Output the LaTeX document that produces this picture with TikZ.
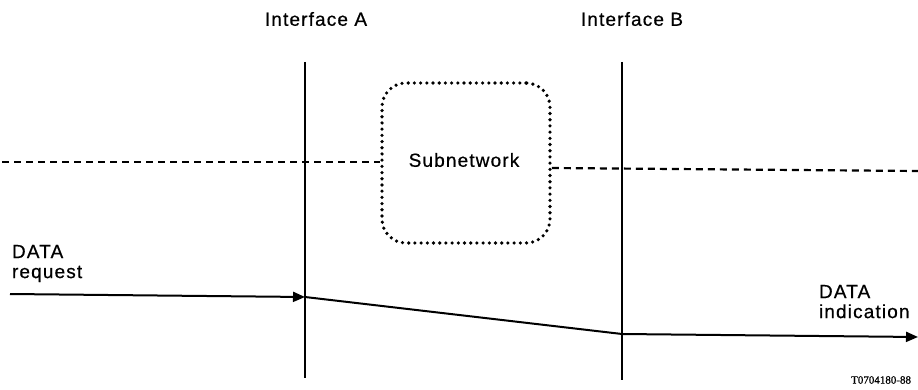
\documentclass[tikz,border=0pt]{standalone}
\usepackage{fontspec}
\setmainfont{Liberation Sans}[LetterSpace=6, FakeBold=0.6]
\newfontfamily\refserif{Liberation Serif}[FakeBold=0.8]
\usepackage{tikz}
\usetikzlibrary{positioning,calc,arrows.meta}

\begin{document}
\begin{tikzpicture} [x=1pt, y=-1pt, line width=2pt,
          nodes={inner sep=0, font=\fontsize{19}{22}\selectfont},
          iface/.style={line width=1.8pt},
          flow/.style={-{Triangle[length=12pt,width=10pt]}},
          dashes/.style={line width=2.2pt, dash pattern=on 7pt off 5pt},
          subnet/.style={draw, line width=3.6pt, line cap=round,
            dash pattern=on 0pt off 6.2pt, rounded corners=24pt,
            minimum width=168pt, minimum height=160pt},
          lbl/.style={align=left, anchor=north west}]
  \useasboundingbox (0,0) rectangle (918,390);
  % interfaces
  \node (ifA) at (316,19) {Interface A};
  \node (ifB) at (632,19) {Interface B};
  \coordinate (topA) at (305,62);  \coordinate (botA) at (305,378);
  \coordinate (topB) at (622,62);  \coordinate (botB) at (622,380);
  \draw[iface] (topA) -- (botA);
  \draw[iface] (topB) -- (botB);
  % subnetwork
  \node[subnet] (sub) at (466,163) {};
  \node (subtxt) at (464,160) {Subnetwork};
  \coordinate (dashL) at (2,162);
  \coordinate (dashR) at (918,171);
  \draw[dashes] (dashL) -- (sub.west |- dashL);
  \draw[dashes] (sub.east |- 0,168) -- (dashR);
  % data flow
  \node[lbl] (req) at (11,244) {DATA\\[-2pt]request};
  \node[lbl] (ind) at (818,284) {DATA\\[-2pt]indication};
  \coordinate (start) at (10,294);
  \coordinate (crossA) at (305,297);
  \coordinate (crossB) at (622,334);
  \coordinate (stop) at (918,337);
  \draw[flow] (start) -- (crossA);
  \draw (crossA) -- (crossB);
  \draw[flow] (crossB) -- (stop);
  \node[anchor=east, font=\refserif\fontsize{11}{13}\selectfont] (ref) at (912,380) {T0704180-88};
\end{tikzpicture}
\end{document}
